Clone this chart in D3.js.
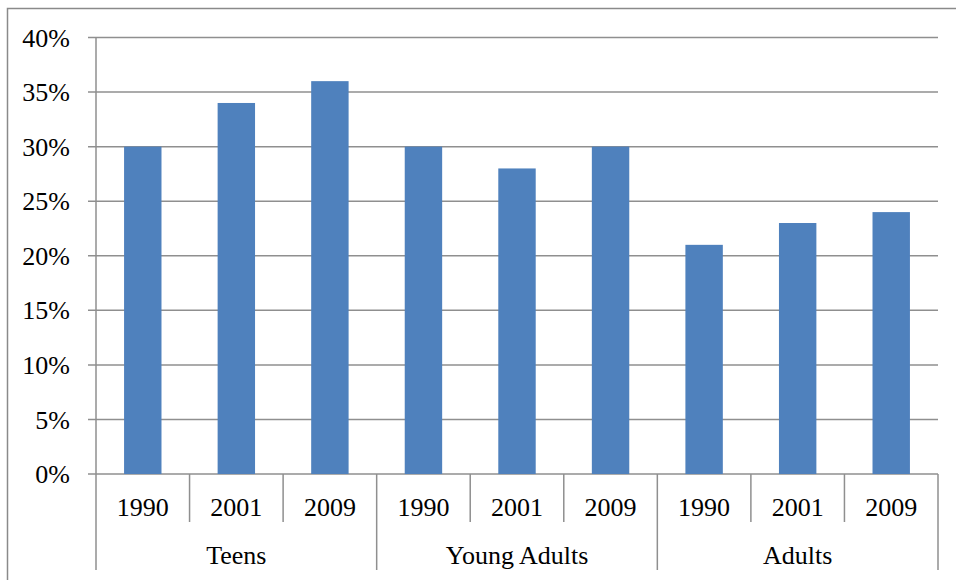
<!DOCTYPE html>
<html>
<head>
<meta charset="utf-8">
<script src="https://cdn.jsdelivr.net/npm/d3@7"></script>
<style>
  body { margin: 0; background: #fff; }
  text { font-family: "Liberation Serif", "Times New Roman", serif; fill: #000; }
</style>
</head>
<body>
<div id="chart"></div>
<script>
// data
var groups = ["Teens", "Young Adults", "Adults"];
var years = ["1990", "2001", "2009"];
var values = [30, 34, 36, 30, 28, 30, 21, 23, 24];
var yTicks = [0, 5, 10, 15, 20, 25, 30, 35, 40];

var width = 956, height = 580;
// plot box (note: "top" is reserved on window, so prefix these)
var plotLeft = 96, plotRight = 938, plotTop = 37.5, plotBottom = 474;
var fontSize = 26;

var svg = d3.select("#chart").append("svg")
    .attr("width", width)
    .attr("height", height);

// outer frame of the chart
svg.append("path")
    .attr("d", "M7.5," + height + "V8.5H" + width)
    .attr("fill", "none")
    .attr("stroke", "#8a8a8a")
    .attr("stroke-width", 1.5);

// one slot per (group, year)
var slots = [];
groups.forEach(function(g, gi) {
    years.forEach(function(yr, yi) {
        slots.push({ group: g, year: yr, value: values[gi * years.length + yi], key: gi + "-" + yi });
    });
});

var x = d3.scaleBand()
    .domain(slots.map(function(d) { return d.key; }))
    .range([plotLeft, plotRight])
    .paddingInner(0.6)
    .paddingOuter(0.3);

var y = d3.scaleLinear()
    .domain([0, 40])
    .range([plotBottom, plotTop]);

var gridColor = "#8f8f8f";

// gridlines (incl. tick stubs left of the axis)
svg.append("g").selectAll("line")
    .data(yTicks)
    .enter().append("line")
    .attr("x1", plotLeft - 8)
    .attr("x2", plotRight)
    .attr("y1", function(d) { return y(d); })
    .attr("y2", function(d) { return y(d); })
    .attr("stroke", gridColor)
    .attr("stroke-width", 1.5);

// y labels
svg.append("g").selectAll("text")
    .data(yTicks)
    .enter().append("text")
    .attr("x", 70)
    .attr("y", function(d) { return y(d); })
    .attr("dy", "0.35em")
    .attr("text-anchor", "end")
    .attr("font-size", fontSize)
    .text(function(d) { return d + "%"; });

// y axis line
svg.append("line")
    .attr("x1", plotLeft).attr("x2", plotLeft)
    .attr("y1", plotTop).attr("y2", plotBottom)
    .attr("stroke", gridColor)
    .attr("stroke-width", 1.5);

// bars
svg.append("g").selectAll("rect")
    .data(slots)
    .enter().append("rect")
    .attr("x", function(d) { return x(d.key); })
    .attr("width", x.bandwidth())
    .attr("y", function(d) { return y(d.value); })
    .attr("height", function(d) { return plotBottom - y(d.value); })
    .attr("fill", "#4F81BD");

// category separators
var step = (plotRight - plotLeft) / slots.length;
var seps = d3.range(slots.length + 1);
svg.append("g").selectAll("line")
    .data(seps)
    .enter().append("line")
    .attr("x1", function(i) { return plotLeft + i * step; })
    .attr("x2", function(i) { return plotLeft + i * step; })
    .attr("y1", plotBottom)
    .attr("y2", function(i) { return i % years.length === 0 ? 570 : 522; })
    .attr("stroke", gridColor)
    .attr("stroke-width", 1.5);

// year labels
svg.append("g").selectAll("text")
    .data(slots)
    .enter().append("text")
    .attr("x", function(d, i) { return plotLeft + (i + 0.5) * step; })
    .attr("y", 516)
    .attr("text-anchor", "middle")
    .attr("font-size", fontSize)
    .text(function(d) { return d.year; });

// group labels
svg.append("g").selectAll("text")
    .data(groups)
    .enter().append("text")
    .attr("x", function(d, i) { return plotLeft + (i + 0.5) * step * years.length; })
    .attr("y", 564)
    .attr("text-anchor", "middle")
    .attr("font-size", fontSize)
    .text(function(d) { return d; });
</script>
</body>
</html>
